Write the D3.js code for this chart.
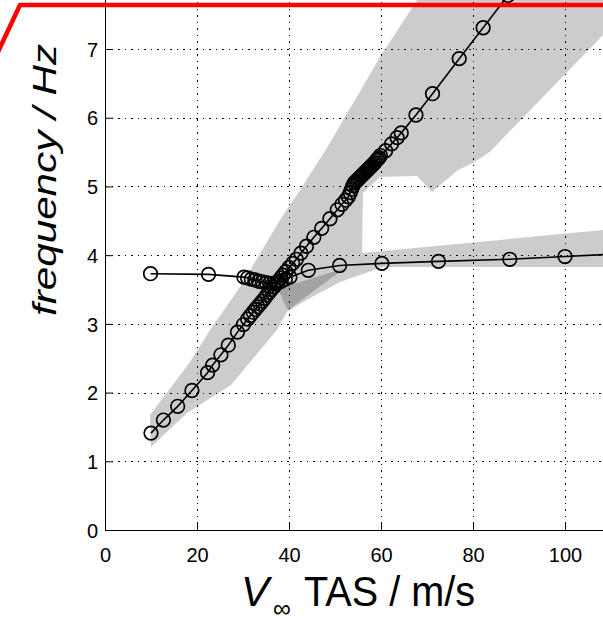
<!DOCTYPE html>
<html>
<head>
<meta charset="utf-8">
<script src="https://cdn.jsdelivr.net/npm/d3@7/dist/d3.min.js"></script>
<style>
  html, body { margin: 0; padding: 0; background: #fff; }
  svg { display: block; }
  text { font-family: "Liberation Sans", Arial, Helvetica, sans-serif; fill: #000; }
</style>
</head>
<body>
<svg id="chart" width="603" height="621"></svg>
<script>
// ---------------- data ----------------
const xGrid = [20, 40, 60, 80, 100, 120];
const yGrid = [1, 2, 3, 4, 5, 6, 7, 8];
const xTicks = [0, 20, 40, 60, 80, 100, 120];
const yTicks = [0, 1, 2, 3, 4, 5, 6, 7, 8];
const xTickLabels = ["0", "20", "40", "60", "80", "100", ""];
const yTickLabels = ["0", "1", "2", "3", "4", "5", "6", "7", ""];

// steep branch (mode 1)
const branch1V = [10.0, 12.7, 15.8, 18.9, 22.3, 23.4, 25.2, 26.8, 28.8, 30.1, 31.0, 31.6, 32.2, 32.7,
  33.2, 33.7, 34.2, 34.7, 35.2, 35.7, 36.2, 36.7, 37.2, 37.7, 38.2, 38.7, 39.3, 40.0, 40.8, 41.6,
  42.6, 43.8, 45.4, 47.1, 48.9, 50.5, 51.5, 52.3, 52.9, 53.3, 53.6, 53.9, 54.2, 54.5, 54.8, 55.1,
  55.4, 55.7, 56.0, 56.3, 56.6, 56.9, 57.2, 57.5, 57.8, 58.1, 58.4, 58.7, 59.0, 59.3, 59.6, 59.9,
  61.0, 62.3, 63.5, 64.4, 67.6, 71.2, 77.0, 82.2, 87.6];
const branch1F = [1.41, 1.60, 1.80, 2.03, 2.29, 2.40, 2.55, 2.69, 2.88, 2.99, 3.07, 3.12, 3.17, 3.21,
  3.25, 3.29, 3.33, 3.37, 3.42, 3.46, 3.50, 3.54, 3.58, 3.62, 3.67, 3.71, 3.76, 3.82, 3.88, 3.94,
  4.03, 4.13, 4.26, 4.39, 4.53, 4.66, 4.74, 4.80, 4.85, 4.91, 4.96, 5.01, 5.05, 5.07, 5.09, 5.11,
  5.13, 5.15, 5.17, 5.19, 5.21, 5.23, 5.25, 5.27, 5.29, 5.31, 5.33, 5.35, 5.38, 5.40, 5.42, 5.45,
  5.52, 5.62, 5.71, 5.78, 6.04, 6.35, 6.86, 7.31, 7.78];

// flat branch (mode 2)
const branch2V = [9.9, 22.5, 30.2, 31.0, 31.8, 32.6, 33.4, 34.2, 35.0, 35.8, 36.6, 37.4, 38.3, 39.2,
  40.2, 44.2, 51.0, 60.2, 72.5, 88.0, 100.0, 115.0];
const branch2F = [3.73, 3.72, 3.68, 3.67, 3.65, 3.64, 3.62, 3.61, 3.60, 3.59, 3.59, 3.60, 3.62, 3.65,
  3.68, 3.78, 3.85, 3.88, 3.91, 3.94, 3.98, 4.03];

// uncertainty band around the steep branch (outline, v / f)
const bandAV = [10.0, 9.78, 15.54, 18.48, 22.83, 29.35, 38.04, 42.39, 48.91, 51.74, 54.35, 59.78,
  66.74, 70.65, 119.8, 94.57, 83.7, 80.0, 76.74, 71.09, 67.83, 59.78, 56.09, 55.87, 52.17,
  39.78, 37.39, 27.39, 17.83];
const bandAF = [1.208, 1.674, 2.183, 2.445, 2.911, 3.537, 4.512, 4.948, 5.632, 5.967, 6.258, 6.884,
  7.597, 8.005, 8.005, 6.258, 5.506, 5.341, 5.239, 4.919, 5.152, 5.138, 4.905, 4.031, 3.813,
  3.202, 2.911, 2.110, 1.703];

// uncertainty band around the flat branch (outline, v / f)
const bandBV = [37.6, 52.17, 55.87, 108.26, 120.65, 120.65, 60.43, 51.09, 44.57, 39.78];
const bandBF = [3.507, 3.813, 4.031, 4.366, 4.439, 3.828, 3.828, 3.609, 3.377, 3.187];

// ---------------- drawing ----------------
const svg = d3.select("#chart");
const x = d3.scaleLinear().domain([0, 120]).range([105, 657]);
const y = d3.scaleLinear().domain([0, 8]).range([530, 530 - 8 * 68.71]);

svg.append("defs").append("clipPath").attr("id", "plotclip")
  .append("rect").attr("x", 105).attr("y", -60).attr("width", 600).attr("height", 590);

const plot = svg.append("g").attr("clip-path", "url(#plotclip)");

const toPts = (vs, fs) => vs.map((v, i) => [x(v), y(fs[i])]);
const outline = d3.line();

plot.append("path").attr("d", outline(toPts(bandAV, bandAF)) + "Z")
  .attr("fill", "#000").attr("fill-opacity", 0.2).attr("stroke", "none");
plot.append("path").attr("d", outline(toPts(bandBV, bandBF)) + "Z")
  .attr("fill", "#000").attr("fill-opacity", 0.2).attr("stroke", "none");

// grid
const grid = plot.append("g").attr("stroke", "#000").attr("stroke-width", 1)
  .attr("stroke-dasharray", "1.5,5").attr("shape-rendering", "crispEdges");
grid.selectAll(".gx").data(xGrid).join("line")
  .attr("x1", d => Math.round(x(d)) + 0.5).attr("x2", d => Math.round(x(d)) + 0.5)
  .attr("y1", y(0)).attr("y2", y(8));
grid.selectAll(".gy").data(yGrid).join("line")
  .attr("y1", d => Math.round(y(d)) + 0.5).attr("y2", d => Math.round(y(d)) + 0.5)
  .attr("x1", x(0)).attr("x2", x(120));

// lines + markers
const line = d3.line().x(d => x(d[0])).y(d => y(d[1]));
const b1 = branch1V.map((v, i) => [v, branch1F[i]]);
const b2 = branch2V.map((v, i) => [v, branch2F[i]]);

[b1, b2].forEach(series => {
  plot.append("path").attr("d", line(series)).attr("fill", "none")
    .attr("stroke", "#000").attr("stroke-width", 1.6);
  plot.append("g").selectAll("circle").data(series).join("circle")
    .attr("cx", d => x(d[0])).attr("cy", d => y(d[1])).attr("r", 6.8)
    .attr("fill", "none").attr("stroke", "#000").attr("stroke-width", 1.7);
});

// axes
const xAxis = d3.axisBottom(x).tickValues(xTicks).tickFormat((d, i) => xTickLabels[i])
  .tickSize(-8).tickSizeOuter(0).tickPadding(18);
const yAxis = d3.axisLeft(y).tickValues(yTicks).tickFormat((d, i) => yTickLabels[i])
  .tickSize(-8).tickSizeOuter(0).tickPadding(7);

const gx = svg.append("g").attr("transform", "translate(0,530)").call(xAxis);
const gy = svg.append("g").attr("transform", "translate(105,0)").call(yAxis);
[gx, gy].forEach(g => {
  g.selectAll("text").attr("font-size", 20).attr("font-family", "Liberation Sans, Arial, sans-serif");
  g.selectAll("path,line").attr("stroke", "#000").attr("stroke-width", 1);
  g.selectAll(".tick").filter(function () { return d3.select(this).select("text").text() === ""; })
    .select("text").remove();
});
gy.selectAll(".tick text").attr("dy", "0.36em");

// axis titles
svg.append("text").attr("x", 241).attr("y", 606).attr("font-size", 42)
  .attr("font-style", "italic").text("V");
svg.append("text").attr("x", 273).attr("y", 617).attr("font-size", 25).text("∞");
svg.append("text").attr("x", 304).attr("y", 606).attr("font-size", 42)
  .attr("textLength", 171).attr("lengthAdjust", "spacingAndGlyphs").text("TAS / m/s");

svg.append("text").attr("transform", "translate(56,180) rotate(-90)")
  .attr("text-anchor", "middle").attr("font-size", 34).attr("font-style", "italic")
  .attr("textLength", 272).attr("lengthAdjust", "spacingAndGlyphs")
  .text("frequency / Hz");

// red frame marker at the top-left
svg.append("path").attr("d", "M-3,54 L20,5 L610,5")
  .attr("fill", "none").attr("stroke", "#ff0000").attr("stroke-width", 4.5)
  .attr("stroke-linejoin", "round");
</script>
</body>
</html>
